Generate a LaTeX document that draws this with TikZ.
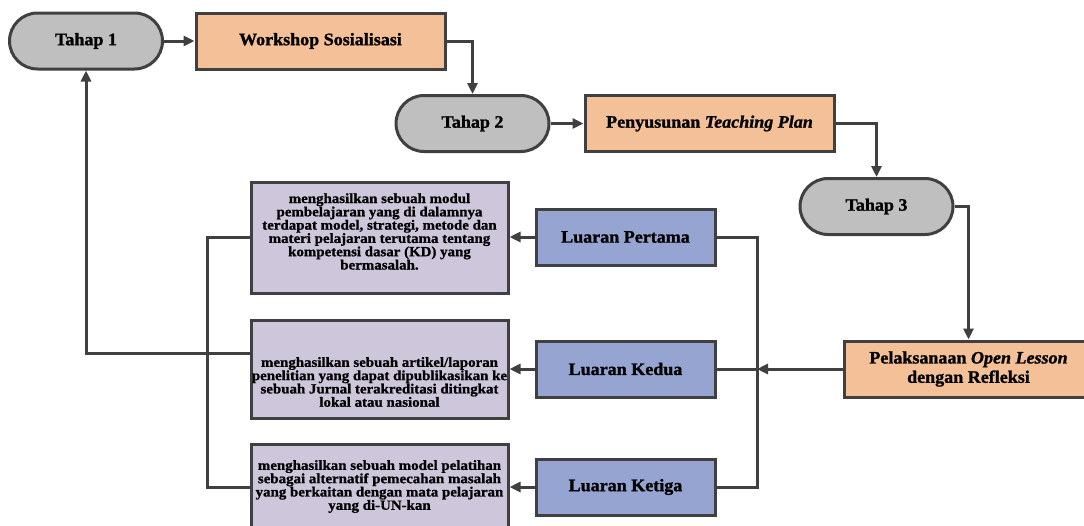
\documentclass[tikz,border=0pt]{standalone}
\usepackage{fontspec}
\setmainfont{Liberation Serif}
\newfontfamily\hdfam{Liberation Serif}[FakeStretch=1.03,BoldFeatures={FakeBold=1.2},BoldItalicFeatures={FakeBold=1.2}]
\newfontfamily\pfam{Liberation Serif}[FakeStretch=1.065,BoldFeatures={FakeBold=1}]
\usetikzlibrary{arrows.meta}
\definecolor{dk}{HTML}{404040}
\definecolor{gry}{HTML}{BFBFBF}
\definecolor{org}{HTML}{F4C098}
\definecolor{blu}{HTML}{95A4D0}
\definecolor{pur}{HTML}{CEC7DC}
\newcommand\hdfont{\hdfam\fontsize{17.5}{19.3}\selectfont\bfseries}
\newcommand\pfont{\pfam\fontsize{14}{13.3}\selectfont\bfseries}
\begin{document}
\begin{tikzpicture}[x=1pt,y=-1pt,
  box/.style={draw=dk,line width=3pt,font=\hdfont,align=center,inner sep=0pt},
  tahap/.style={box,fill=gry,rounded corners=28pt,minimum width=153pt,minimum height=56pt},
  orgbox/.style={box,fill=org,minimum width=249pt,minimum height=56pt},
  blubox/.style={box,fill=blu,minimum width=179pt,minimum height=56pt},
  purbox/.style={box,fill=pur,minimum width=257pt},
  ptext/.style={font=\pfont,align=center,inner sep=0pt},
  conn/.style={draw=dk,line width=3pt},
  arr/.style={conn,-{Triangle[length=11pt,width=10pt]}}]
\clip (0,0) rectangle (1084,525);
% nodes
\node[tahap] (t1) at (86,41) {Tahap 1};
\node[orgbox] (ws) at (320.5,41) {Workshop Sosialisasi};
\node[tahap] (t2) at (472.5,123.5) {Tahap 2};
\node[orgbox] (ps) at (709.5,123.5) {Penyusunan \textit{Teaching Plan}};
\node[tahap] (t3) at (876.5,206.5) {Tahap 3};
\node[orgbox] (pl) at (968.5,369) {Pelaksanaan \textit{Open Lesson}\\dengan Refleksi};
\node[blubox] (lp) at (625.5,237) {Luaran Pertama};
\node[blubox] (lk) at (625.5,369) {Luaran Kedua};
\node[blubox] (lt) at (625.5,487) {Luaran Ketiga};
\node[purbox,minimum height=111pt] (p1) at (379.5,237.5) {};
\node[ptext] (p1t) at (379.5,231.5) {menghasilkan sebuah modul\\pembelajaran yang di dalamnya\\terdapat model, strategi, metode dan\\materi pelajaran terutama tentang\\kompetensi dasar (KD) yang\\bermasalah.};
\node[purbox,minimum height=98pt] (p2) at (379.5,369) {};
\node[ptext] (p2t) at (379.5,382) {menghasilkan sebuah artikel/laporan\\penelitian yang dapat dipublikasikan ke\\sebuah Jurnal terakreditasi ditingkat\\lokal atau nasional};
\node[purbox,minimum height=86pt] (p3) at (379.5,487) {};
\node[ptext] (p3t) at (379.5,486.5) {menghasilkan sebuah model pelatihan\\sebagai alternatif pemecahan masalah\\yang berkaitan dengan mata pelajaran\\yang di-UN-kan};
\coordinate (bx) at (757,369);
\coordinate (lb) at (207,369);
% connectors
\draw[arr] (t1.east) -- (t1.east -| ws.west);
\draw[arr] (ws.east) -| (t2.north);
\draw[arr] (t2.east) -- (t2.east -| ps.west);
\draw[arr] (ps.east) -| (t3.north);
\draw[arr] (t3.east) -| (pl.north);
\draw[arr] (pl.west) -- (bx);
\draw[conn] (lp.east) -| (bx) |- (lt.east);
\draw[conn] (lk.east) -- (bx);
\draw[arr] (lp.west) -- (lp.west -| p1.east);
\draw[arr] (lk.west) -- (lk.west -| p2.east);
\draw[arr] (lt.west) -- (lt.west -| p3.east);
\draw[conn] (p1.west) -| (lb) |- (p3.west);
\draw[arr] ([yshift=16pt]p2.west) -| (t1.south);
\end{tikzpicture}
\end{document}
